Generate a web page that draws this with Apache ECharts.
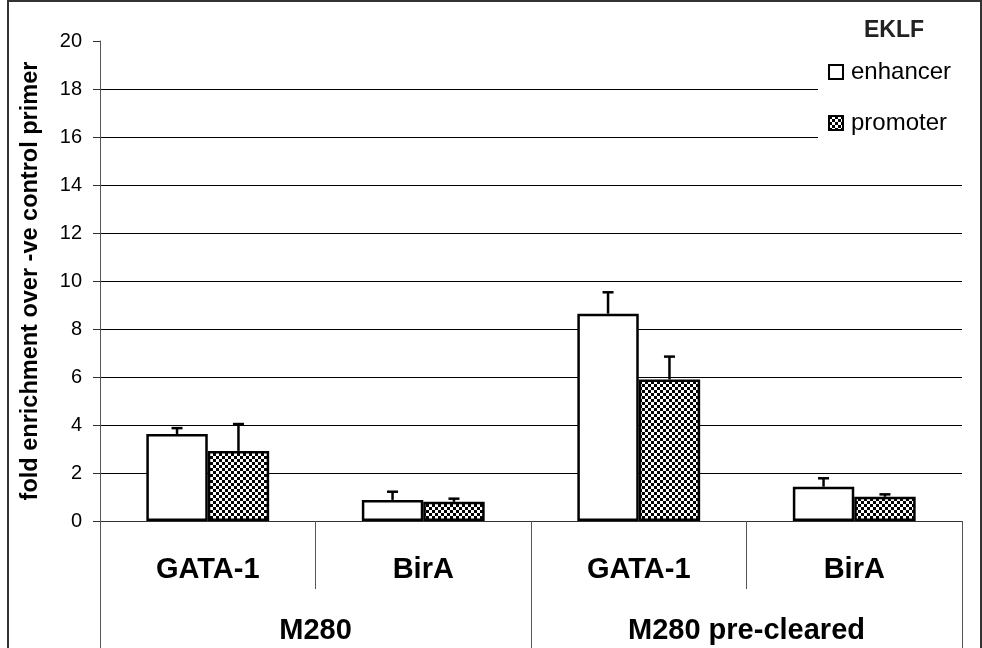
<!DOCTYPE html>
<html>
<head>
<meta charset="utf-8">
<script src="https://cdn.jsdelivr.net/npm/echarts@6/dist/echarts.min.js"></script>
<style>
html,body{margin:0;padding:0;background:#fff;}
#chart{width:982px;height:648px;}
</style>
</head>
<body>
<div id="chart"></div>
<script>
// ---- data ----
var categories = ['GATA-1', 'BirA', 'GATA-1', 'BirA'];
var groups = ['M280', 'M280 pre-cleared'];
var seriesNames = ['enhancer', 'promoter'];
var enhancer = [3.62, 0.88, 8.64, 1.43];
var enhancerErr = [0.25, 0.34, 0.89, 0.35];
var promoter = [2.92, 0.80, 5.90, 1.01];
var promoterErr = [1.12, 0.13, 0.95, 0.10];
var yTicks = [0, 2, 4, 6, 8, 10, 12, 14, 16, 18, 20];

// checker pattern
var pc = document.createElement('canvas');
pc.width = 6; pc.height = 6;
var g = pc.getContext('2d');
g.fillStyle = '#fff'; g.fillRect(0, 0, 6, 6);
g.fillStyle = '#000'; g.fillRect(0, 0, 3, 3); g.fillRect(3, 3, 3, 3);

var BAR_PCT = 0.285;
var FONT = 'Liberation Sans, Arial, sans-serif';

function errData(vals, errs) {
  return vals.map(function (v, i) { return [i, v, errs[i]]; });
}
function errRender(side) {
  return function (params, api) {
    var idx = api.value(0), v = api.value(1), e = api.value(2);
    var band = api.size([1, 0])[0];
    var w = band * BAR_PCT;
    var base = api.coord([idx, v]);
    var top = api.coord([idx, v + e]);
    var x = base[0] + side * w / 2;
    return {
      type: 'group',
      children: [
        { type: 'line', shape: { x1: x, y1: base[1], x2: x, y2: top[1] }, style: { stroke: '#000', lineWidth: 2.5 } },
        { type: 'line', shape: { x1: x - 5.5, y1: top[1], x2: x + 5.5, y2: top[1] }, style: { stroke: '#000', lineWidth: 2.5 } }
      ]
    };
  };
}

var chart = echarts.init(document.getElementById('chart'));
chart.setOption({
  animation: false,
  backgroundColor: '#fff',
  textStyle: { fontFamily: FONT },
  title: {
    text: 'EKLF', left: 859, top: 14,
    textStyle: { fontFamily: FONT, fontWeight: 'bold', fontSize: 23, color: '#222' }
  },
  legend: {
    orient: 'vertical', left: 818, top: 50,
    padding: [10, 20, 15, 10],
    backgroundColor: '#fff',
    icon: 'rect',
    itemWidth: 14, itemHeight: 14, itemGap: 27,
    data: seriesNames,
    textStyle: { fontFamily: FONT, fontSize: 24, color: '#000', lineHeight: 24, padding: [0, 0, 0, 3] }
  },
  grid: { left: 100, right: 20, top: 41, bottom: 127, containLabel: false },
  xAxis: [
    {
      type: 'category', data: categories, position: 'bottom',
      axisLine: { lineStyle: { color: '#333', width: 1 } },
      axisTick: { show: true, interval: 0, alignWithLabel: false, length: 68, lineStyle: { color: '#555' } },
      axisLabel: { interval: 0, margin: 34, fontFamily: FONT, fontWeight: 'bold', fontSize: 29, color: '#000' }
    },
    {
      type: 'category', data: groups, position: 'bottom', offset: 0,
      axisLine: { show: false },
      axisTick: { show: true, interval: 0, alignWithLabel: false, length: 135, lineStyle: { color: '#555' } },
      axisLabel: { interval: 0, margin: 95, fontFamily: FONT, fontWeight: 'bold', fontSize: 29, color: '#000' }
    }
  ],
  yAxis: {
    type: 'value', min: 0, max: 20, interval: 2,
    name: 'fold enrichment over -ve control primer',
    nameLocation: 'middle', nameRotate: 90, nameGap: 57,
    nameTextStyle: { fontFamily: FONT, fontWeight: 'bold', fontSize: 23.5, color: '#000' },
    axisLine: { show: true, lineStyle: { color: '#555', width: 1 } },
    axisTick: { show: true, inside: false, length: 7, lineStyle: { color: '#333' } },
    axisLabel: {
      margin: 18, fontFamily: FONT, fontSize: 20, color: '#000',
      formatter: function (v) { return yTicks.indexOf(v) >= 0 ? String(v) : ''; }
    },
    splitLine: { show: true, showMaxLine: false, lineStyle: { color: '#000', width: 1 } }
  },
  series: [
    {
      name: 'enhancer', type: 'bar', xAxisIndex: 0, data: enhancer,
      barWidth: (BAR_PCT * 100) + '%', barGap: '0%',
      itemStyle: { color: '#fff', borderColor: '#000', borderWidth: 2.5 }
    },
    {
      name: 'promoter', type: 'bar', xAxisIndex: 0, data: promoter,
      barWidth: (BAR_PCT * 100) + '%', barGap: '0%',
      itemStyle: { color: { image: pc, repeat: 'repeat' }, borderColor: '#000', borderWidth: 2.5 }
    },
    {
      type: 'custom', xAxisIndex: 0, z: 5, silent: true,
      renderItem: errRender(-1), data: errData(enhancer, enhancerErr)
    },
    {
      type: 'custom', xAxisIndex: 0, z: 5, silent: true,
      renderItem: errRender(1), data: errData(promoter, promoterErr)
    }
  ],
  graphic: [
    {
      type: 'rect', silent: true, z: 100,
      shape: { x: 8, y: 1, width: 973, height: 700 },
      style: { fill: null, stroke: '#333', lineWidth: 2 }
    }
  ]
});
</script>
</body>
</html>
